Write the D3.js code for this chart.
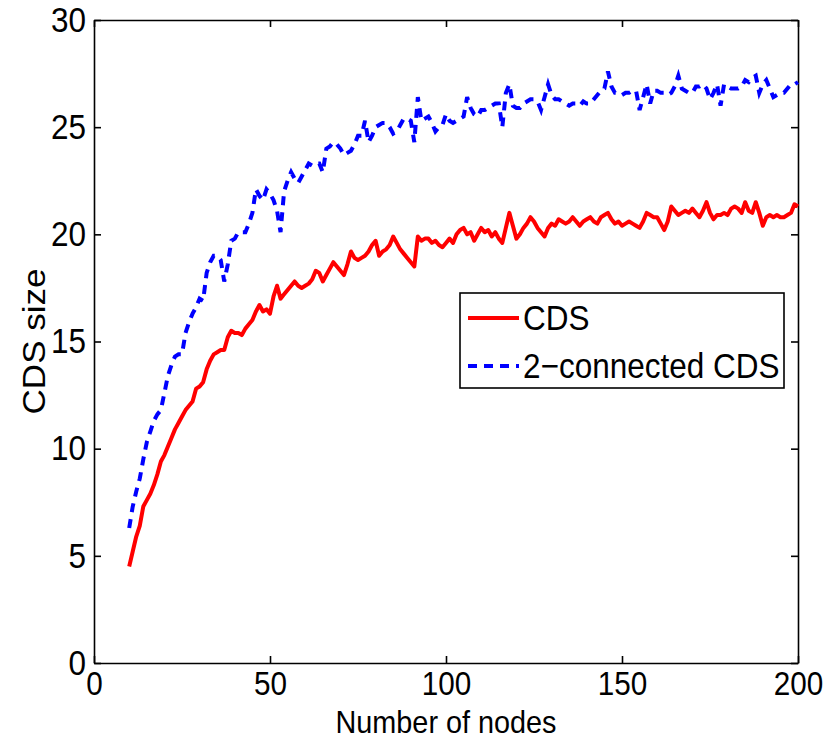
<!DOCTYPE html>
<html>

<head>
    <meta charset="utf-8">
    <style>
        body {
            margin: 0;
            background: white;
        }

        svg {
            display: block;
        }

        text {
            font-family: 'Liberation Sans', Arial, Helvetica, sans-serif;
            fill: black;
        }
    </style>
</head>

<body>
    <svg width="828" height="741"></svg>

    <script src="https://d3js.org/d3.v7.min.js"></script>
    <script>
        // number of nodes: one run for every size from 10 to 200
        let nodes = d3.range(10, 201);

        // CDS size (x = 10 ... 200)
        let cds = [
            4.5, 5.2, 5.9, 6.4, 7.3, 7.6, 7.9, 8.3, 8.8, 9.4,
            9.7, 10.1, 10.5, 10.9, 11.2, 11.5, 11.8, 12.0, 12.2, 12.8,
            12.9, 13.1, 13.7, 14.1, 14.4, 14.5, 14.6, 14.6, 15.2, 15.5,
            15.4, 15.4, 15.3, 15.6, 15.8, 16.0, 16.4, 16.7, 16.4, 16.5,
            16.3, 17.1, 17.6, 17.0, 17.2, 17.4, 17.6, 17.8, 17.6, 17.5,
            17.6, 17.7, 17.9, 18.3, 18.2, 17.8, 18.1, 18.4, 18.7, 18.5,
            18.3, 18.1, 18.6, 19.2, 18.9, 18.8, 18.9, 19.0, 19.2, 19.5,
            19.7, 19.0, 19.2, 19.3, 19.5, 19.9, 19.6, 19.3, 19.1, 18.9,
            18.7, 18.5, 19.9, 19.7, 19.8, 19.8, 19.6, 19.7, 19.5, 19.4,
            19.6, 19.8, 19.6, 20.0, 20.2, 20.3, 20.0, 20.1, 19.7, 20.0,
            20.3, 20.1, 20.2, 19.9, 20.1, 19.8, 19.6, 20.3, 21.0, 20.4,
            19.8, 20.0, 20.3, 20.5, 20.8, 20.6, 20.3, 20.1, 19.9, 20.3,
            20.5, 20.4, 20.7, 20.6, 20.5, 20.6, 20.8, 20.6, 20.4, 20.6,
            20.7, 20.8, 20.6, 20.5, 20.8, 20.9, 21.0, 20.7, 20.5, 20.6,
            20.4, 20.5, 20.6, 20.5, 20.4, 20.3, 20.6, 21.0, 20.9, 20.8,
            20.8, 20.5, 20.2, 20.6, 21.3, 21.1, 20.9, 21.0, 21.1, 21.0,
            21.2, 21.0, 20.8, 21.1, 21.5, 21.0, 20.7, 20.9, 20.9, 21.0,
            20.9, 21.2, 21.3, 21.2, 21.0, 21.5, 21.1, 21.0, 21.5, 21.0,
            20.4, 20.8, 20.9, 20.8, 20.9, 20.8, 20.8, 20.9, 21.0, 21.4,
            21.3
        ];

        // 2-connected CDS size (x = 10 ... 200)
        let cds2 = [
            6.3, 7.3, 8.0, 8.6, 9.5, 10.3, 10.8, 11.3, 11.6, 11.8,
            12.6, 13.4, 13.9, 14.3, 14.4, 14.4, 15.4, 15.9, 16.3, 16.6,
            17.0, 16.9, 18.2, 18.7, 19.0, 19.0, 18.8, 17.8, 18.6, 19.7,
            19.8, 20.1, 20.1, 20.1, 20.5, 21.0, 22.1, 21.8, 21.6, 22.1,
            21.9, 21.6, 21.1, 20.1, 22.0, 22.5, 22.9, 22.6, 22.4, 22.7,
            23.0, 23.3, 23.2, 23.3, 23.3, 22.9, 24.0, 24.1, 24.3, 24.2,
            24.0, 23.7, 23.8, 23.9, 24.2, 24.6, 24.6, 25.3, 24.3, 24.6,
            25.0, 25.1, 25.2, 25.2, 25.0, 24.7, 24.8, 25.1, 25.4, 25.4,
            25.3, 24.3, 26.4, 25.3, 25.4, 25.5, 25.2, 24.8, 25.0, 25.1,
            25.6, 25.3, 25.2, 25.3, 25.4, 25.5, 26.4, 25.9, 25.6, 25.5,
            25.8, 25.8, 25.9, 26.0, 26.1, 26.1, 25.0, 26.6, 27.0, 26.0,
            25.9, 25.9, 26.1, 26.2, 26.3, 26.3, 26.2, 25.8, 26.4, 27.0,
            26.5, 26.3, 26.3, 26.2, 26.1, 26.0, 26.1, 26.1, 26.0, 26.2,
            26.1, 26.1, 26.3, 26.5, 26.7, 26.8, 27.6, 26.9, 26.6, 26.6,
            26.5, 26.6, 26.6, 26.7, 26.7, 25.8, 26.4, 27.0, 26.1, 26.7,
            26.7, 26.6, 26.6, 26.5, 26.6, 26.9, 27.4, 26.8, 26.7, 26.6,
            26.6, 26.9, 26.9, 27.0, 26.8, 26.3, 26.6, 27.0, 26.0, 27.0,
            26.9, 26.8, 26.8, 26.8, 26.9, 27.2, 27.1, 27.3, 27.4, 26.6,
            27.0, 27.2, 26.8, 26.4, 26.5, 26.6, 26.6, 26.8, 27.0, 27.0,
            27.1
        ];

        let xTicks = [0, 50, 100, 150, 200];
        let yTicks = [0, 5, 10, 15, 20, 25, 30];
        let seriesNames = ["CDS", "2\u2212connected CDS"];

        let margin = { top: 20, right: 30, bottom: 78, left: 94 };
        let w = 828;
        let h = 741;

        let svg = d3.select("body").select("svg");

        let x = d3.scaleLinear()
            .domain([0, 200])
            .range([margin.left, w - margin.right]);

        let y = d3.scaleLinear()
            .domain([0, 30])
            .range([h - margin.bottom, margin.top]);

        let sx = 0.9; // the original lettering is a bit squeezed sideways
        let fs = 35;

        // axes, MATLAB style: box on, ticks pointing inwards
        let xAxis = svg.append("g")
            .attr("transform", "translate(0," + y(0) + ")")
            .call(d3.axisBottom(x).tickValues(xTicks).tickSizeInner(-7).tickSizeOuter(0).tickPadding(9));

        let yAxis = svg.append("g")
            .attr("transform", "translate(" + x(0) + ",0)")
            .call(d3.axisLeft(y).tickValues(yTicks).tickSizeInner(-7).tickSizeOuter(0).tickPadding(9));

        svg.append("g")
            .attr("transform", "translate(0," + y(30) + ")")
            .call(d3.axisTop(x).tickValues(xTicks).tickSizeInner(-7).tickSizeOuter(0).tickFormat(""));

        svg.append("g")
            .attr("transform", "translate(" + x(200) + ",0)")
            .call(d3.axisRight(y).tickValues(yTicks).tickSizeInner(-7).tickSizeOuter(0).tickFormat(""));

        svg.selectAll(".domain, .tick line")
            .attr("stroke", "black")
            .attr("stroke-width", 1.6);

        svg.selectAll(".tick text")
            .attr("font-size", fs)
            .attr("font-family", "'Liberation Sans', Arial, sans-serif")
            .attr("fill", "black")
            .attr("transform", "scale(" + sx + ",1)");

        xAxis.selectAll(".tick text").attr("font-size", 33);

        // axis titles
        svg.append("text")
            .attr("transform", "translate(" + x(100) + ",733) scale(" + sx + ",1)")
            .attr("text-anchor", "middle")
            .attr("font-size", 32)
            .text("Number of nodes");

        svg.append("text")
            .attr("transform", "translate(45," + y(15) + ") scale(" + sx + ",1) rotate(-90)")
            .attr("text-anchor", "middle")
            .attr("font-size", fs)
            .text("CDS size");

        // the two curves
        let line = d3.line()
            .x(function (d, i) { return x(nodes[i]); })
            .y(function (d) { return y(d); });

        svg.append("path")
            .datum(cds)
            .attr("fill", "none")
            .attr("stroke", "#ff0000")
            .attr("stroke-width", 4)
            .attr("stroke-linejoin", "round")
            .attr("d", line);

        svg.append("path")
            .datum(cds2)
            .attr("fill", "none")
            .attr("stroke", "#0000ff")
            .attr("stroke-width", 4)
            .attr("stroke-dasharray", "9,7")
            .attr("d", line);

        // legend
        let legend = svg.append("g").attr("transform", "translate(460,293)");

        legend.append("rect")
            .attr("width", 324)
            .attr("height", 95)
            .attr("fill", "white")
            .attr("stroke", "black")
            .attr("stroke-width", 1.6);

        let rows = [
            { name: seriesNames[0], color: "#ff0000", dash: null },
            { name: seriesNames[1], color: "#0000ff", dash: "9,7" }
        ];

        let row = legend.selectAll(".row")
            .data(rows)
            .join("g")
            .attr("class", "row")
            .attr("transform", function (d, i) { return "translate(0," + (25 + i * 48) + ")"; });

        row.append("line")
            .attr("x1", 8)
            .attr("x2", 59)
            .attr("stroke", function (d) { return d.color; })
            .attr("stroke-width", 4)
            .attr("stroke-dasharray", function (d) { return d.dash; });

        row.append("text")
            .attr("transform", "translate(63,12) scale(" + sx + ",1)")
            .attr("font-size", fs)
            .text(function (d) { return d.name; });
    </script>
</body>

</html>
